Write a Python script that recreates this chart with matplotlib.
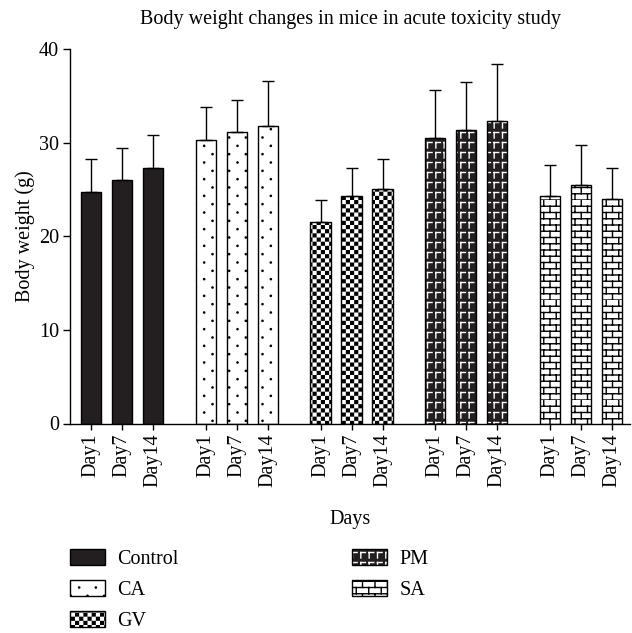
import warnings
import numpy as np
import matplotlib
matplotlib.use("Agg")
import matplotlib.pyplot as plt
import matplotlib.hatch as mhatch
from matplotlib.path import Path
from matplotlib.patches import Patch

warnings.filterwarnings("ignore")

groups = ["Control", "CA", "GV", "PM", "SA"]
days = ["Day1", "Day7", "Day14"]
control = [24.7, 26.0, 27.3]
ca = [30.3, 31.1, 31.8]
gv = [21.5, 24.3, 25.0]
pm = [30.5, 31.3, 32.3]
sa = [24.3, 25.5, 24.0]
control_sd = [3.5, 3.4, 3.5]
ca_sd = [3.5, 3.5, 4.8]
gv_sd = [2.4, 3.0, 3.2]
pm_sd = [5.1, 5.2, 6.1]
sa_sd = [3.3, 4.2, 3.3]


# custom hatch patterns, built in the unit hatch tile
lw_tile = plt.rcParams["hatch.linewidth"] / 72.0

def seg(x0, y0, x1, y1):
    return Path([(x0, y0), (x1, y1)], [Path.MOVETO, Path.LINETO])

def dots_path():
    circ = Path.unit_circle()
    parts = []
    n = 6
    r = 0.006
    for i in range(2 * n):
        y = (i + 0.5) / (2 * n)
        shift = 0.25 / n if i % 2 == 0 else 0.75 / n
        for j in range(n):
            parts.append(Path(circ.vertices * r + [j / n + shift, y], circ.codes))
    return Path.make_compound_path(*parts)

def checker_path():
    n = 24
    s = 1.0 / n
    ins = lw_tile / 2
    parts = []
    for i in range(n):
        for j in range(n):
            if (i + j) % 2 == 0:
                x0, y0 = i * s + ins, j * s + ins
                x1, y1 = (i + 1) * s - ins, (j + 1) * s - ins
                parts.append(Path([(x0, y0), (x1, y0), (x1, y1), (x0, y1), (x0, y0)],
                                  [Path.MOVETO, Path.LINETO, Path.LINETO, Path.LINETO, Path.CLOSEPOLY]))
    return Path.make_compound_path(*parts)

def brick_path():
    rows, cols = 16, 8
    parts = []
    for i in range(rows):
        y0, y1 = i / rows, (i + 1) / rows
        parts.append(seg(0, y0, 1, y0))
        for j in range(cols):
            x = (j + 0.5 * (i % 2)) / cols
            parts.append(seg(x, y0, x, y1))
    return Path.make_compound_path(*parts)

def gamma_path():
    nx, ny = 12, 10
    w, h = 1.0 / nx, 1.0 / ny
    parts = []
    for i in range(nx):
        for j in range(ny):
            x0, y0 = i * w, j * h
            parts.append(seg(x0 + 0.3 * w, y0 + 0.75 * h, x0 + 0.85 * w, y0 + 0.75 * h))
            parts.append(seg(x0 + 0.3 * w, y0 + 0.75 * h, x0 + 0.3 * w, y0 + 0.2 * h))
    return Path.make_compound_path(*parts)

CUSTOM = {"d": dots_path(), "k": checker_path(), "b": brick_path(), "p": gamma_path()}


class CustomHatch(mhatch.HatchPatternBase):
    def __init__(self, hatch, density):
        self.path = None
        self.num_vertices = 0
        for key, path in CUSTOM.items():
            if key in hatch:
                self.path = path
                self.num_vertices = len(path.vertices)

    def set_vertices_and_codes(self, vertices, codes):
        vertices[:] = self.path.vertices
        codes[:] = self.path.codes


mhatch._hatch_types.append(CustomHatch)

plt.rcParams["font.family"] = ["Liberation Serif", "DejaVu Serif"]
plt.rcParams["font.size"] = 14.5

values = [control, ca, gv, pm, sa]
errors = [control_sd, ca_sd, gv_sd, pm_sd, sa_sd]
# (facecolor, hatch, hatch colour)
styles = [("#231f20", None, "black"),
          ("white", "d", "black"),
          ("white", "k", "black"),
          ("#231f20", "p", "white"),
          ("white", "b", "black")]

fig = plt.figure(figsize=(6.32, 6.33), dpi=100)
ax = fig.add_axes([70 / 632, 1 - 423.5 / 633, 560 / 632, 374.5 / 633])

step = 3.7
width = 0.65
xpos = []
handles = []
for g in range(len(groups)):
    x = g * step + np.arange(len(days))
    xpos.extend(x)
    fc, hatch, hc = styles[g]
    ax.bar(x, values[g], width, color=fc, edgecolor=hc, linewidth=0, hatch=hatch, zorder=2)
    ax.bar(x, values[g], width, facecolor="none", edgecolor="black", linewidth=1.0, zorder=3)
    ax.errorbar(x, values[g], yerr=[np.zeros(len(days)), errors[g]], fmt="none",
                ecolor="black", elinewidth=1.0, capsize=4.3, capthick=1.0, zorder=4)
    handles.append((Patch(facecolor=fc, edgecolor=hc, linewidth=0, hatch=hatch),
                    Patch(facecolor="none", edgecolor="black", linewidth=1.0)))

ax.set_ylim(0, 40)
ax.set_yticks([0, 10, 20, 30, 40])
ax.set_xlim(-0.68, 4 * step + 2 + 0.58)
ax.set_xticks(xpos)
ax.set_xticklabels(days * len(groups), rotation=90)
ax.tick_params(axis="y", length=5, width=1, pad=3)
ax.tick_params(axis="x", length=4, width=1, pad=3)
for s in ["top", "right"]:
    ax.spines[s].set_visible(False)
for s in ["left", "bottom"]:
    ax.spines[s].set_linewidth(1.0)

ax.set_title("Body weight changes in mice in acute toxicity study", fontsize=14.5, pad=18)
ax.set_ylabel("Body weight (g)", labelpad=3)
ax.set_xlabel("Days", labelpad=17)

fig.legend(handles, groups, ncol=2, loc="upper left", frameon=False,
           bbox_to_anchor=(60 / 632, 1 - 539 / 633), borderpad=0,
           handlelength=1.75, handleheight=0.85, handletextpad=0.6,
           labelspacing=0.55, columnspacing=8.6, fontsize=14.5)

fig.savefig("out.png", dpi=100)
